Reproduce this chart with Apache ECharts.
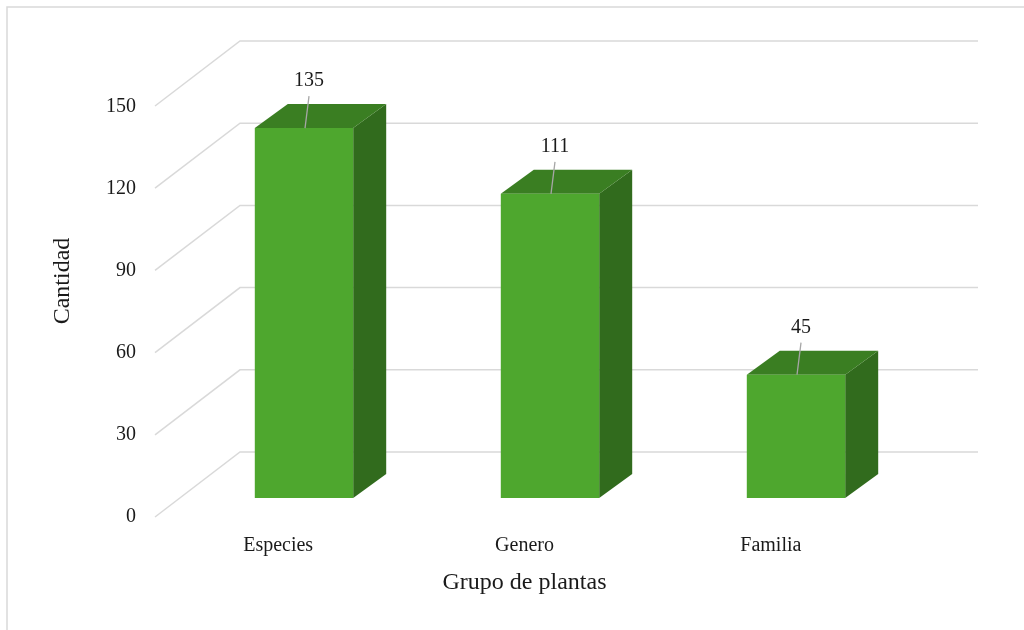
<!DOCTYPE html>
<html>
<head>
<meta charset="utf-8">
<style>
  html, body { margin:0; padding:0; background:#fff; }
  #chart { width:1024px; height:630px; }
</style>
<script src="https://cdn.jsdelivr.net/npm/echarts@6/dist/echarts.min.js"></script>
</head>
<body>
<div id="chart"></div>
<script>
// datos del grafico
const categories = ['Especies', 'Genero', 'Familia']
const cantidad = [135, 111, 45]
const yTicks = [0, 30, 60, 90, 120, 150]

const fontFam = '"Liberation Serif", "DejaVu Serif", serif'
const depthX = 33, depthY = -24   // profundidad de la barra
const wallX = 59, wallY = -46     // pared del fondo respecto al plano de las barras
const floorX = -26, floorY = 19   // borde frontal del piso

const chart = echarts.init(document.getElementById('chart'))

// lineas de la cuadricula (pared de fondo + diagonal del lado izquierdo)
function renderGrid(params, api){
    const v = api.value(0)
    const cs = params.coordSys
    const y = api.coord([0, v])[1]
    const style = {stroke:'#d9d9d9', lineWidth:1.5, fill:null}
    return {
        type:'group',
        children:[
            {type:'polyline', shape:{points:[
                [cs.x + floorX, y + floorY],
                [cs.x + wallX, y + wallY],
                [cs.x + cs.width + wallX, y + wallY]
            ]}, style:style, silent:true}
        ]
    }
}

// barra 3d: cara frontal, cara superior, cara lateral
function renderBar(params, api){
    const idx = api.value(0)
    const val = api.value(1)
    const top = api.coord([idx, val])
    const bottom = api.coord([idx, 0])
    const w = api.size([1, 0])[0] * 0.4
    const x0 = top[0] - w / 2, x1 = top[0] + w / 2
    const yt = top[1], yb = bottom[1]
    return {
        type:'group',
        children:[
            {type:'polygon', shape:{points:[[x1, yt],[x1 + depthX, yt + depthY],[x1 + depthX, yb + depthY],[x1, yb]]},
                style:{fill:'#316b1d'}},
            {type:'polygon', shape:{points:[[x0, yt],[x0 + depthX, yt + depthY],[x1 + depthX, yt + depthY],[x1, yt]]},
                style:{fill:'#3a7e22'}},
            {type:'rect', shape:{x:x0, y:yt, width:w, height:yb - yt},
                style:{fill:'#4ea72e'}},
            {type:'line', shape:{x1:top[0] + 1, y1:yt, x2:top[0] + 5, y2:yt - 32},
                style:{stroke:'#a6a6a6', lineWidth:1.3}},
            {type:'text', style:{text:String(val), x:top[0] + 5, y:yt - 47, align:'center', verticalAlign:'middle',
                font:'20px ' + fontFam, fill:'#1a1a1a'}}
        ]
    }
}

const option = {
    backgroundColor:'#fff',
    animation:false,
    graphic:[
        {type:'rect', x:7, y:7, shape:{x:0, y:0, width:1040, height:650}, style:{fill:null, stroke:'#d9d9d9', lineWidth:1.5}, silent:true},
        {type:'text', x:63, y:281, rotation:Math.PI / 2, style:{text:'Cantidad', align:'center', verticalAlign:'middle',
            font:'24px ' + fontFam, fill:'#1a1a1a'}}
    ],
    grid:[
        // plano frontal de las barras
        {left:181, right:105, top:87, bottom:132},
        // plano frontal del piso (etiquetas de ejes)
        {left:155, right:130, top:107, bottom:113}
    ],
    xAxis:[
        {type:'category', gridIndex:0, data:categories, show:false},
        {type:'category', gridIndex:1, data:categories,
            axisLine:{show:false}, axisTick:{show:false},
            axisLabel:{margin:19, fontFamily:fontFam, fontSize:20, color:'#1a1a1a'},
            name:'Grupo de plantas', nameLocation:'middle', nameGap:54,
            nameTextStyle:{fontFamily:fontFam, fontSize:24, color:'#1a1a1a'}}
    ],
    yAxis:[
        {type:'value', gridIndex:0, min:0, max:150, interval:30, show:false},
        {type:'value', gridIndex:1, min:0, max:150, interval:30,
            axisLine:{show:false}, axisTick:{show:false}, splitLine:{show:false},
            axisLabel:{margin:19, fontFamily:fontFam, fontSize:20, color:'#1a1a1a'}}
    ],
    series:[
        {type:'custom', xAxisIndex:0, yAxisIndex:0, renderItem:renderGrid, data:yTicks.map(v => [v]), z:1, silent:true},
        {type:'custom', xAxisIndex:0, yAxisIndex:0, renderItem:renderBar,
            data:cantidad.map((v, i) => [i, v]), z:2}
    ]
}
chart.setOption(option)
</script>
</body>
</html>
